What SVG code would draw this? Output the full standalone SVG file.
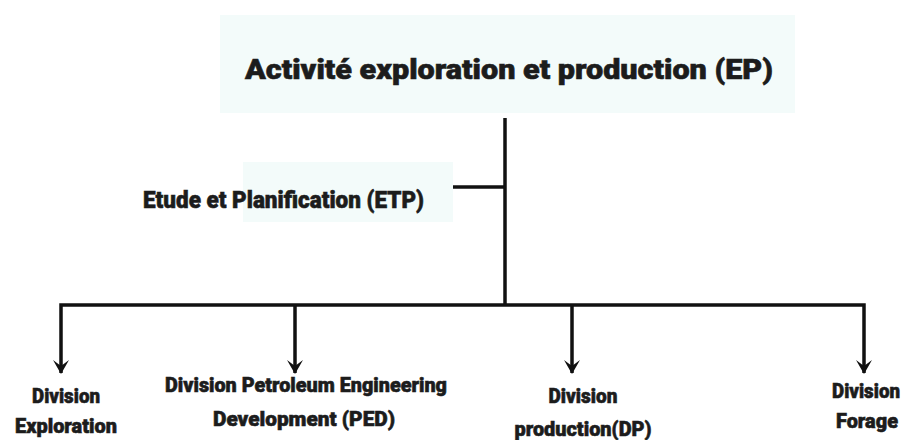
<svg xmlns="http://www.w3.org/2000/svg" width="911" height="440" viewBox="0 0 911 440">
<style>
  .t{font-family:Roboto,"Liberation Sans",sans-serif;font-weight:900;fill:#1c1c1c;stroke:#1c1c1c;stroke-width:0.6;}
  .big{font-size:27px;}
  .mid{font-size:24px;}
  .lab{font-size:21px;text-anchor:middle;}
  .bg{fill:#f3fbfa;}
  .ln{stroke:#111;stroke-width:3.5;fill:none;}
</style>
<defs>
  <marker id="ah" viewBox="0 0 14 16" refX="13" refY="8" markerWidth="14" markerHeight="16" markerUnits="userSpaceOnUse" orient="auto-start-reverse">
    <path d="M0,0 L6,8 L0,16 L14,8 Z" fill="#111"/>
  </marker>
</defs>
<rect width="911" height="440" fill="#ffffff"/>
<g id="node-ep">
  <rect class="bg" x="220" y="15" width="575" height="98"/>
  <text class="t big" x="245" y="79" textLength="528" lengthAdjust="spacingAndGlyphs">Activité exploration et production (EP)</text>
</g>
<g id="node-etp">
  <rect class="bg" x="243" y="162" width="210" height="60"/>
  <text class="t mid" x="143" y="208" textLength="281" lengthAdjust="spacingAndGlyphs">Etude et Planification (ETP)</text>
</g>
<g id="node-exploration">
  <text class="t lab" x="66" y="403" textLength="68" lengthAdjust="spacingAndGlyphs">Division</text>
  <text class="t lab" x="66" y="433" textLength="102" lengthAdjust="spacingAndGlyphs">Exploration</text>
</g>
<g id="node-ped">
  <text class="t lab" x="306" y="392" textLength="282" lengthAdjust="spacingAndGlyphs">Division Petroleum Engineering</text>
  <text class="t lab" x="304" y="426" textLength="182" lengthAdjust="spacingAndGlyphs">Development (PED)</text>
</g>
<g id="node-dp">
  <text class="t lab" x="583" y="403" textLength="69" lengthAdjust="spacingAndGlyphs">Division</text>
  <text class="t lab" x="583" y="436" textLength="137" lengthAdjust="spacingAndGlyphs">production(DP)</text>
</g>
<g id="node-forage">
  <text class="t lab" x="866" y="398" textLength="68" lengthAdjust="spacingAndGlyphs">Division</text>
  <text class="t lab" x="867" y="428" textLength="62" lengthAdjust="spacingAndGlyphs">Forage</text>
</g>
<g id="connectors">
  <line class="ln" x1="505" y1="118" x2="505" y2="304"/>
  <line class="ln" x1="453" y1="187" x2="505" y2="187"/>
  <path class="ln" d="M61,373 V305 H864 V373" stroke-width="4" marker-start="url(#ah)" marker-end="url(#ah)"/>
  <line class="ln" x1="295" y1="305" x2="295" y2="373" marker-end="url(#ah)"/>
  <line class="ln" x1="572" y1="305" x2="572" y2="373" marker-end="url(#ah)"/>
</g>
</svg>
